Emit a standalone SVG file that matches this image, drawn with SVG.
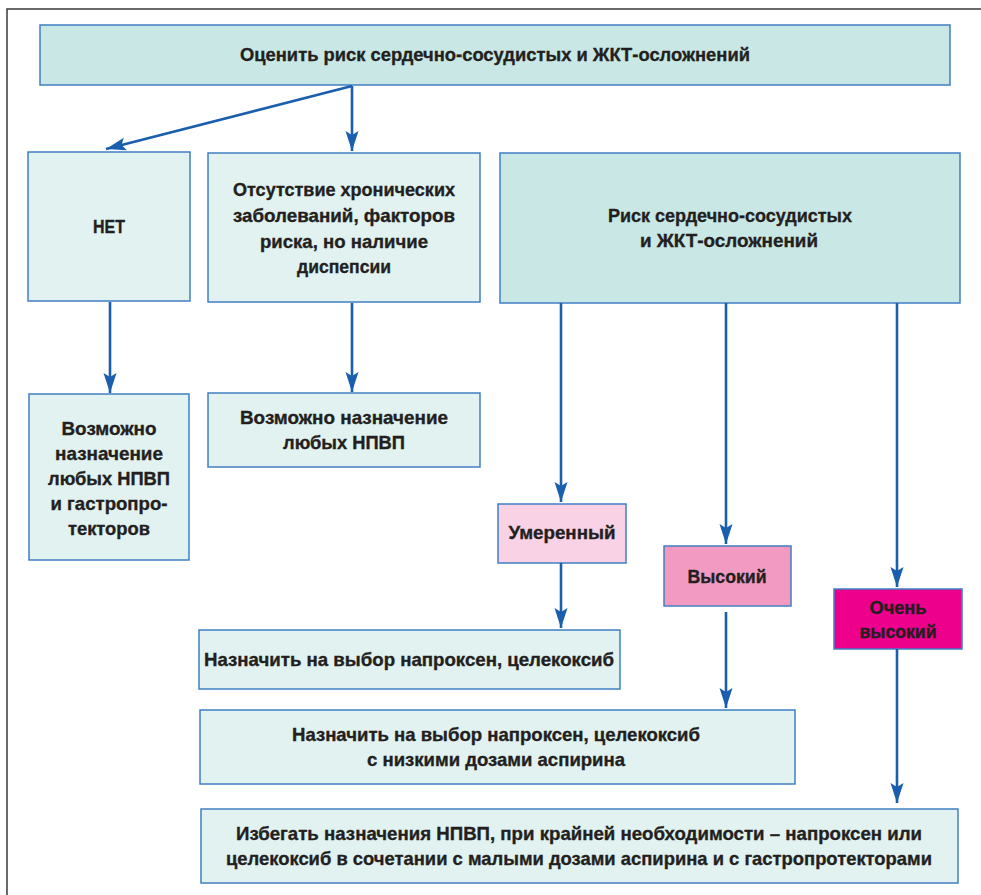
<svg xmlns="http://www.w3.org/2000/svg" width="981" height="895" viewBox="0 0 981 895">
<style>
.frame{fill:none;stroke:#3a3a3a;stroke-width:1.5}
.dark{fill:#c9e8e5;stroke:#3f7fc4;stroke-width:1.5}
.light{fill:#e1f2f1;stroke:#3f7fc4;stroke-width:1.5}
.p1{fill:#f9d3e5;stroke:#3f7fc4;stroke-width:1.5}
.p2{fill:#f29ac1;stroke:#3f7fc4;stroke-width:1.5}
.p3{fill:#ec008c;stroke:#3f7fc4;stroke-width:1.5}
text{font-family:"Liberation Sans","Noto Sans",sans-serif;font-weight:bold;font-size:19px;fill:#231f20;stroke:#231f20;stroke-width:0.35;text-anchor:middle}
.c line{stroke:#1a5fae;stroke-width:2.6;fill:none}
</style>
<defs>
<marker id="ah" viewBox="0 0 20 14" refX="20" refY="7" markerWidth="20" markerHeight="14" markerUnits="userSpaceOnUse" orient="auto">
<path d="M0,0.5 L20,7 L0,13.5 L4,7 Z" fill="#1a5fae"/>
</marker>
</defs>
<rect x="0" y="0" width="981" height="895" fill="#ffffff"/>
<path class="frame" d="M7,895 L7,9 L981,9"/>

<g id="n-top">
<rect class="dark" x="40" y="25" width="910" height="60"/>
<text x="495" y="61" textLength="510" lengthAdjust="spacingAndGlyphs">Оценить риск сердечно-сосудистых и ЖКТ-осложнений</text>
</g>
<g id="n-net">
<rect class="light" x="28" y="152" width="162" height="149"/>
<text x="109" y="233" textLength="32" lengthAdjust="spacingAndGlyphs">НЕТ</text>
</g>
<g id="n-absent">
<rect class="light" x="208" y="153" width="272" height="149"/>
<text x="344" y="196" textLength="222" lengthAdjust="spacingAndGlyphs">Отсутствие хронических</text>
<text x="344" y="222" textLength="222" lengthAdjust="spacingAndGlyphs">заболеваний, факторов</text>
<text x="344" y="248" textLength="168" lengthAdjust="spacingAndGlyphs">риска, но наличие</text>
<text x="344" y="273" textLength="94" lengthAdjust="spacingAndGlyphs">диспепсии</text>
</g>
<g id="n-risk">
<rect class="dark" x="500" y="153" width="460" height="150"/>
<text x="730" y="222" textLength="244" lengthAdjust="spacingAndGlyphs">Риск сердечно-сосудистых</text>
<text x="729" y="247" textLength="178" lengthAdjust="spacingAndGlyphs">и ЖКТ-осложнений</text>
</g>
<g id="n-any-gastro">
<rect class="light" x="29" y="394" width="160" height="166"/>
<text x="109" y="435" textLength="95" lengthAdjust="spacingAndGlyphs">Возможно</text>
<text x="109" y="460" textLength="108" lengthAdjust="spacingAndGlyphs">назначение</text>
<text x="109" y="485" textLength="122" lengthAdjust="spacingAndGlyphs">любых НПВП</text>
<text x="109" y="510" textLength="117" lengthAdjust="spacingAndGlyphs">и гастропро-</text>
<text x="109" y="535" textLength="82" lengthAdjust="spacingAndGlyphs">текторов</text>
</g>
<g id="n-any">
<rect class="light" x="208" y="393" width="272" height="74"/>
<text x="344" y="424" textLength="208" lengthAdjust="spacingAndGlyphs">Возможно назначение</text>
<text x="344" y="449" textLength="122" lengthAdjust="spacingAndGlyphs">любых НПВП</text>
</g>
<g id="n-moderate">
<rect class="p1" x="498" y="504" width="128" height="59"/>
<text x="562" y="539" textLength="107" lengthAdjust="spacingAndGlyphs">Умеренный</text>
</g>
<g id="n-high">
<rect class="p2" x="664" y="546" width="127" height="60"/>
<text x="727" y="583" textLength="79" lengthAdjust="spacingAndGlyphs">Высокий</text>
</g>
<g id="n-veryhigh">
<rect class="p3" x="834" y="589" width="128" height="60"/>
<text x="898" y="614" textLength="57" lengthAdjust="spacingAndGlyphs">Очень</text>
<text x="898" y="638" textLength="77" lengthAdjust="spacingAndGlyphs">высокий</text>
</g>
<g id="n-rx1">
<rect class="light" x="199" y="630" width="421" height="59"/>
<text x="409" y="666" textLength="410" lengthAdjust="spacingAndGlyphs">Назначить на выбор напроксен, целекоксиб</text>
</g>
<g id="n-rx2">
<rect class="light" x="200" y="710" width="595" height="74"/>
<text x="496" y="741" textLength="408" lengthAdjust="spacingAndGlyphs">Назначить на выбор напроксен, целекоксиб</text>
<text x="496" y="766" textLength="258" lengthAdjust="spacingAndGlyphs">с низкими дозами аспирина</text>
</g>
<g id="n-rx3">
<rect class="light" x="201" y="809" width="757" height="74"/>
<text x="579" y="840" textLength="686" lengthAdjust="spacingAndGlyphs">Избегать назначения НПВП, при крайней необходимости – напроксен или</text>
<text x="579" y="865" textLength="706" lengthAdjust="spacingAndGlyphs">целекоксиб в сочетании с малыми дозами аспирина и с гастропротекторами</text>
</g>

<g id="connectors" class="c">
<line x1="352" y1="86" x2="106" y2="149" marker-end="url(#ah)"/>
<line x1="352" y1="86" x2="352" y2="151" marker-end="url(#ah)"/>
<line x1="110" y1="302" x2="110" y2="393" marker-end="url(#ah)"/>
<line x1="352" y1="303" x2="352" y2="392" marker-end="url(#ah)"/>
<line x1="561" y1="303" x2="561" y2="502" marker-end="url(#ah)"/>
<line x1="726" y1="303" x2="726" y2="544" marker-end="url(#ah)"/>
<line x1="897" y1="303" x2="897" y2="587" marker-end="url(#ah)"/>
<line x1="561" y1="563" x2="561" y2="628" marker-end="url(#ah)"/>
<line x1="726" y1="612" x2="726" y2="708" marker-end="url(#ah)"/>
<line x1="897" y1="649" x2="897" y2="803" marker-end="url(#ah)"/>
</g>
</svg>
